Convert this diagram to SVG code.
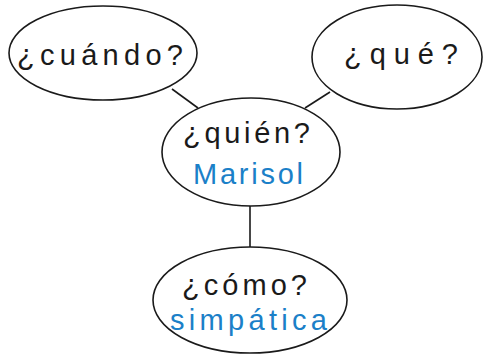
<svg xmlns="http://www.w3.org/2000/svg" width="484" height="356" viewBox="0 0 484 356">
<style>
.bubble{fill:#fff;stroke:#1a1a1a;stroke-width:1.6}
.conn line{stroke:#1a1a1a;stroke-width:1.6}
.q{font-family:"Liberation Sans",Arial,sans-serif;font-size:29px;fill:#1a1a1a}
.a{font-family:"Liberation Sans",Arial,sans-serif;font-size:29px;fill:#1b80c8}
</style>
<rect width="484" height="356" fill="#fff"/>
<g class="conn">
<line x1="172" y1="89" x2="198" y2="108"/>
<line x1="330" y1="92" x2="305" y2="108"/>
<line x1="250" y1="205" x2="250" y2="248"/>
</g>
<g id="cuando">
<ellipse class="bubble" cx="103" cy="53" rx="94" ry="47"/>
<text class="q" x="17" y="65" textLength="166" lengthAdjust="spacing">¿cuándo?</text>
</g>
<g id="que">
<ellipse class="bubble" cx="397" cy="57" rx="85" ry="52"/>
<text class="q" x="344" y="64" textLength="114" lengthAdjust="spacing">¿qué?</text>
</g>
<g id="quien">
<ellipse class="bubble" cx="251" cy="152" rx="89" ry="54"/>
<text class="q" x="183" y="143" textLength="127" lengthAdjust="spacing">¿quién?</text>
<text class="a" x="193" y="184" textLength="110" lengthAdjust="spacing">Marisol</text>
</g>
<g id="como">
<ellipse class="bubble" cx="250" cy="300" rx="97" ry="53"/>
<text class="q" x="182" y="295" textLength="125" lengthAdjust="spacing">¿cómo?</text>
<text class="a" x="170" y="330" textLength="157" lengthAdjust="spacing">simpática</text>
</g>
</svg>
